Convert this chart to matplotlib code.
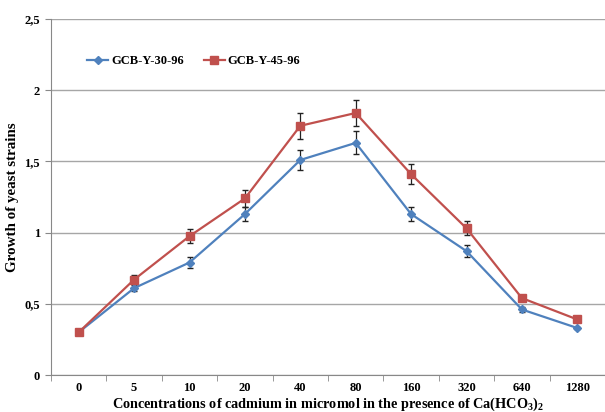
import matplotlib
matplotlib.use("Agg")
import matplotlib.pyplot as plt
from matplotlib.lines import Line2D
import numpy as np

# Data
concentrations = ["0", "5", "10", "20", "40", "80", "160", "320", "640", "1280"]
strain_30 = [0.30, 0.61, 0.79, 1.13, 1.51, 1.63, 1.13, 0.87, 0.46, 0.33]
strain_30_err = [0.0, 0.02, 0.04, 0.05, 0.07, 0.08, 0.05, 0.04, 0.02, 0.01]
strain_45 = [0.30, 0.67, 0.975, 1.24, 1.75, 1.84, 1.41, 1.03, 0.54, 0.39]
strain_45_err = [0.0, 0.03, 0.05, 0.06, 0.09, 0.09, 0.07, 0.05, 0.02, 0.0]

blue = "#4F81BD"
red = "#C0504D"

plt.rcParams["font.family"] = ["Liberation Serif", "DejaVu Serif"]
plt.rcParams["font.weight"] = "bold"
plt.rcParams["mathtext.fontset"] = "custom"
plt.rcParams["mathtext.rm"] = "Liberation Serif:bold"
plt.rcParams["mathtext.bf"] = "Liberation Serif:bold"
plt.rcParams["mathtext.default"] = "bf"

fig = plt.figure(figsize=(6.05, 4.12), dpi=100)
ax = fig.add_axes([51 / 605, 37 / 412, 1 - 51 / 605, 356 / 412])

x = np.arange(len(concentrations))

ax.errorbar(x, strain_30, yerr=strain_30_err, color=blue, marker="D",
            markersize=4, linewidth=1.6, ecolor="#222222", elinewidth=0.9,
            capsize=2.5, zorder=3)
ax.errorbar(x, strain_45, yerr=strain_45_err, color=red, marker="s",
            markersize=6, linewidth=1.6, ecolor="#222222", elinewidth=0.9,
            capsize=2.5, zorder=3)

ax.set_ylim(0, 2.5)
ax.set_xlim(-0.5, (605 - 51) / 56.6 - 0.5)
ax.set_yticks([0, 0.5, 1, 1.5, 2, 2.5])
ax.set_yticklabels(["0", "0,5", "1", "1,5", "2", "2,5"])
ax.yaxis.grid(True, color="#a6a6a6", linewidth=1)
ax.set_axisbelow(True)

ax.set_xticks(x)
ax.set_xticklabels(concentrations)
ax.set_xticks(np.arange(-0.5, len(concentrations), 1), minor=True)
ax.tick_params(axis="x", which="major", length=0, pad=5, labelsize=9)
ax.tick_params(axis="x", which="minor", length=4, color="#888888")
ax.tick_params(axis="y", length=4, color="#888888", labelsize=9, pad=4)

for side in ["top", "right"]:
    ax.spines[side].set_visible(False)
ax.spines["left"].set_color("#888888")
ax.spines["bottom"].set_color("#888888")

ax.set_ylabel("Growth of yeast strains", fontsize=10.8, fontweight="bold", labelpad=4)
ax.set_xlabel("Concentrations of cadmium in micromol in the presence of Ca(HCO$_3$)$_2$",
              fontsize=10.3, fontweight="bold", labelpad=1)

handles = [
    Line2D([], [], color=blue, marker="D", markersize=4, linewidth=1.6),
    Line2D([], [], color=red, marker="s", markersize=6, linewidth=1.6),
]
ax.legend(handles, ["GCB-Y-30-96", "GCB-Y-45-96"], loc="upper left",
          bbox_to_anchor=(0.045, 0.93), ncol=2, frameon=False,
          fontsize=9, handlelength=1.7, columnspacing=1.6, handletextpad=0.2)

plt.savefig("out.png", dpi=100)
